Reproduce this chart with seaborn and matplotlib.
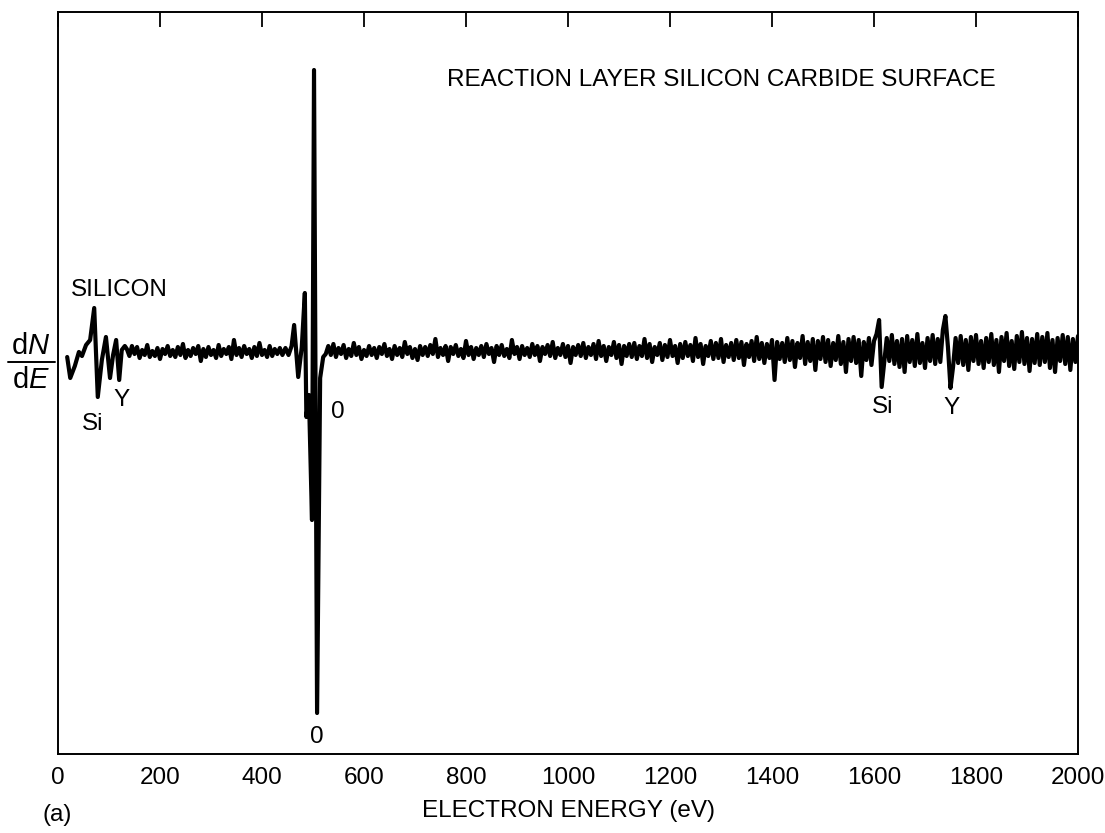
import numpy as np
import pandas as pd
import seaborn as sns
import matplotlib.pyplot as plt
from matplotlib.lines import Line2D

# ---------------- data ----------------
# low-energy silicon / yttrium structure (eV, signal)
si_energy = [18, 24, 33, 41, 47, 55, 63, 71, 78, 86, 94, 102, 108, 114, 120, 125, 131]
si_signal = [-5, -26, -14, 0, -4, 7, 12, 44, -45, -8, 15, -26, -3, 12, -28, 2, 6]

# noisy baseline 135 .. 440 eV, every 5 eV
mid_signal = [
    3, -4, 6, -2, 5, -6, 2, -3, 7, -5, 1, -4, 4, -7, 3, -2, 6, -4, 2, -5,
    5, -3, 8, -6, 2, -4, 4, -2, 6, -9, 3, -5, 5, -3, 2, -6, 7, -4, 3, -2,
    5, -7, 12, -3, 4, -5, 6, -2, 3, -6, 5, -4, 9, -3, 2, -5, 6, -4, 3, -2,
    4, -3]

# oxygen KLL structure (eV, signal)
o_energy = [446, 452, 458, 463, 471, 478, 484, 487, 492, 498, 502, 508, 514, 520]
o_signal = [4, -3, 6, 27, -25, 5, 59, -65, -43, -168, 282, -361, -26, -5]

# noisy baseline 525 .. 2000 eV, every 5 eV (high-energy Si and Y features included)
high_signal = [
    -2, 6, -3, 8, -5, 4, -2, 7, -6, 3, -4, 9, -3, 5, -7, 2, -4, 6, -3, 4,
    -6, 5, -2, 8, -4, 3, -7, 6, -3, 4, -5, 10, -2, 5, -6, 3, -8, 6, -3, 5,
    -4, 7, -2, 13, -5, 4, -3, 6, -9, 5, -2, 7, -4, 3, -6, 11, -3, 5, -7, 4,
    -3, 6, -5, 8, -2, 4, -10, 6, -3, 7, -4, 3, -6, 12, -2, 5, -7, 6, -3, 4,
    -5, 8, -3, 6, -9, 5, -2, 7, -4, 10, -6, 4, -3, 8, -5, 6, -11, 5, -3, 7,
    -4, 9, -6, 5, -3, 8, -7, 11, -4, 6, -9, 5, -3, 10, -6, 7, -12, 6, -4, 8,
    -5, 9, -7, 6, -4, 13, -6, 8, -10, 5, -3, 9, -8, 7, -5, 12, -4, 6, -11, 8,
    -6, 10, -4, 7, -9, 14, -5, 8, -12, 6, -4, 11, -7, 9, -6, 13, -10, 7, -5, 9,
    -8, 12, -6, 10, -13, 8, -5, 11, -9, 15, -7, 9, -11, 8, -6, 12, -28, 10, -7, 9,
    -10, 14, -8, 11, -15, 9, -6, 16, -12, 10, -9, 13, -18, 11, -7, 15, -10, 12, -14, 9,
    -8, 16, -12, 10, -20, 13, -9, 15, -11, 12, -24, 10, -8, 14, -13, 11, 18, 32, -35, -10,
    14, -9, 17, -12, 11, -15, 13, -20, 16, -10, 12, -14, 18, -11, 9, -16, 14, -9, 17, -12,
    13, -10, 22, 36, 5, -36, -15, 14, -11, 16, -13, 12, -18, 15, -9, 17, -12, 11, -16, 14,
    -10, 18, -13, 12, -20, 15, -9, 19, -14, 11, -17, 16, -10, 20, -12, 14, -19, 13, -11, 18,
    -13, 15, -10, 19, -16, 12, -20, 14, -9, 17, -12, 15, -18, 13, -10, 16]

x_ticks = [0, 200, 400, 600, 800, 1000, 1200, 1400, 1600, 1800, 2000]

mid_energy = np.arange(135, 441, 5)
high_energy = np.arange(525, 2001, 5)

df = pd.DataFrame({
    "energy": np.concatenate([si_energy, mid_energy, o_energy, high_energy]),
    "signal": np.concatenate([si_signal, mid_signal, o_signal, high_signal]),
})

# ---------------- style ----------------
sns.set_style("white")
FONT = ["Liberation Sans", "DejaVu Sans"]
plt.rcParams["font.family"] = FONT
plt.rcParams["text.color"] = "black"
plt.rcParams["axes.labelcolor"] = "black"
plt.rcParams["xtick.color"] = "black"
plt.rcParams["mathtext.fontset"] = "custom"
plt.rcParams["mathtext.rm"] = "Liberation Sans"
plt.rcParams["mathtext.it"] = "Liberation Sans:italic"

W, H = 1105, 833
fig = plt.figure(figsize=(W / 100, H / 100), dpi=100)
ax = fig.add_axes([58 / W, 1 - 754 / H, 1020 / W, 742 / H])

sns.lineplot(data=df, x="energy", y="signal", ax=ax, color="black",
             linewidth=3.0, estimator=None, sort=False)

ax.set_xlim(0, 2000)
ax.set_ylim(-402, 340)
ax.set_xticks(x_ticks)
ax.set_xticklabels([str(t) for t in x_ticks])
ax.set_yticks([])
ax.tick_params(axis="x", direction="in", length=11, width=1.3, top=True,
               labeltop=False, labelsize=17.5, pad=9, colors="black")
for s in ax.spines.values():
    s.set_color("black")
    s.set_linewidth(1.4)
ax.set_ylabel("")
ax.set_xlabel("ELECTRON ENERGY (eV)", fontsize=17.5, labelpad=8, color="black")

fs = 17.5
ax.text(763, 272, "REACTION LAYER SILICON CARBIDE SURFACE", fontsize=fs,
        ha="left", va="center", color="black")
ax.text(120, 62, "SILICON", fontsize=fs, ha="center", va="center", color="black")
ax.text(68, -72, "Si", fontsize=fs, ha="center", va="center", color="black")
ax.text(124, -48, "Y", fontsize=fs, ha="center", va="center", color="black")
ax.text(549, -60, "0", fontsize=fs, ha="center", va="center", color="black")
ax.text(508, -385, "0", fontsize=fs, ha="center", va="center", color="black")
ax.text(1616, -55, "Si", fontsize=fs, ha="center", va="center", color="black")
ax.text(1753, -56, "Y", fontsize=fs, ha="center", va="center", color="black")

# dN/dE label at left
fig.text(31 / W, 1 - 346 / H, r"d$\mathit{N}$", fontsize=21, ha="center", va="center")
fig.text(31 / W, 1 - 380 / H, r"d$\mathit{E}$", fontsize=21, ha="center", va="center")
fig.add_artist(Line2D([8 / W, 55 / W], [1 - 362 / H, 1 - 362 / H],
                      transform=fig.transFigure, color="black", linewidth=1.4))
fig.text(57 / W, 1 - 815 / H, "(a)", fontsize=fs, ha="center", va="center")

fig.savefig("out.png", dpi=100)
